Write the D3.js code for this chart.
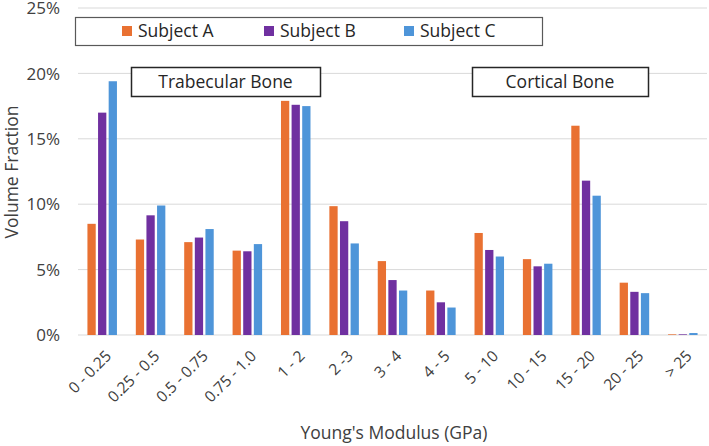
<!DOCTYPE html>
<html>
<head>
<meta charset="utf-8">
<script src="https://cdn.jsdelivr.net/npm/d3@7"></script>
<style>
  body { margin: 0; background: #fff; }
  svg { display: block; font-family: "Open Sans", "Liberation Sans", sans-serif; }
</style>
</head>
<body>
<svg id="chart"></svg>
<script>
// categories and values (volume fraction, %)
var categories = ['0 - 0.25', '0.25 - 0.5', '0.5 - 0.75', '0.75 - 1.0', '1 - 2', '2 -3', '3 - 4',
                  '4 - 5', '5 - 10', '10 - 15', '15 - 20', '20 - 25', '> 25'];
var subjects = ['Subject A', 'Subject B', 'Subject C'];
var subjectA = [8.5, 7.3, 7.1, 6.45, 17.9, 9.85, 5.65, 3.4, 7.8, 5.8, 16.0, 4.0, 0.05];
var subjectB = [17.0, 9.15, 7.45, 6.4, 17.6, 8.7, 4.2, 2.5, 6.5, 5.25, 11.8, 3.3, 0.05];
var subjectC = [19.4, 9.9, 8.1, 6.95, 17.5, 7.0, 3.4, 2.1, 6.0, 5.45, 10.65, 3.2, 0.15];
var yTicks = [0, 5, 10, 15, 20, 25];
var regionLabels = ['Trabecular Bone', 'Cortical Bone'];

var width = 709,
    height = 446,
    margin = {left: 78, right: 2, top: 8, bottom: 111},
    colors = ['#E97132', '#7030A0', '#4E95D9'],
    textColor = '#404040';

var series = [subjectA, subjectB, subjectC];

var svg = d3.select('#chart')
    .attr('width', width)
    .attr('height', height);

var xScale = d3.scaleBand()
    .domain(categories)
    .range([margin.left, width - margin.right])
    .paddingInner(0.39)
    .paddingOuter(0.195);

var subScale = d3.scaleBand()
    .domain(subjects)
    .range([0, xScale.bandwidth()])
    .paddingInner(0.22);

var yScale = d3.scaleLinear()
    .domain([0, 25])
    .range([height - margin.bottom, margin.top]);

// gridlines
svg.append('g')
    .selectAll('line')
    .data(yTicks)
    .enter().append('line')
    .attr('x1', margin.left)
    .attr('x2', width - margin.right)
    .attr('y1', function(d) { return yScale(d); })
    .attr('y2', function(d) { return yScale(d); })
    .attr('stroke', '#d9d9d9')
    .attr('stroke-width', 1);

// y axis labels
var yAxis = d3.axisLeft(yScale)
    .tickValues(yTicks)
    .tickSize(0)
    .tickPadding(18)
    .tickFormat(function(d) { return d + '%'; });

svg.append('g')
    .attr('transform', 'translate(' + margin.left + ',0)')
    .call(yAxis)
    .call(function(g) { g.select('.domain').remove(); })
    .selectAll('text')
    .style('font-size', '17px')
    .style('font-family', '"Open Sans", sans-serif')
    .attr('fill', textColor)
    .attr('dy', '0.34em');

// bars
var groups = svg.append('g')
    .selectAll('g')
    .data(categories)
    .enter().append('g')
    .attr('transform', function(d) { return 'translate(' + xScale(d) + ',0)'; });

groups.selectAll('rect')
    .data(function(d, i) {
        return subjects.map(function(s, j) { return {subject: s, value: series[j][i], idx: j}; });
    })
    .enter().append('rect')
    .attr('x', function(d) { return subScale(d.subject); })
    .attr('width', subScale.bandwidth())
    .attr('y', function(d) { return yScale(d.value); })
    .attr('height', function(d) { return yScale(0) - yScale(d.value); })
    .attr('fill', function(d) { return colors[d.idx]; });

// x axis labels
var xAxis = d3.axisBottom(xScale).tickSize(0).tickPadding(0);
svg.append('g')
    .attr('transform', 'translate(0,' + yScale(0) + ')')
    .call(xAxis)
    .call(function(g) { g.select('.domain').remove(); })
    .selectAll('text')
    .style('font-size', '15.5px')
    .style('font-family', '"Open Sans", sans-serif')
    .attr('fill', textColor)
    .attr('text-anchor', 'end')
    .attr('dy', 0)
    .attr('y', 0)
    .attr('transform', 'translate(10,22) rotate(-45)');

// axis titles
svg.append('text')
    .attr('x', 394)
    .attr('y', 439)
    .attr('text-anchor', 'middle')
    .attr('fill', textColor)
    .style('font-size', '17.5px')
    .text("Young's Modulus (GPa)");

svg.append('text')
    .attr('transform', 'translate(18,172) rotate(-90)')
    .attr('text-anchor', 'middle')
    .attr('fill', textColor)
    .style('font-size', '17.5px')
    .text('Volume Fraction');

// legend
var legend = svg.append('g');
legend.append('rect')
    .attr('x', 75.5).attr('y', 17.5)
    .attr('width', 467).attr('height', 28)
    .attr('fill', '#fff')
    .attr('stroke', '#595959')
    .attr('stroke-width', 1.2);

var legendX = [122, 264, 404];
var item = legend.selectAll('g.item')
    .data(subjects)
    .enter().append('g')
    .attr('class', 'item')
    .attr('transform', function(d, i) { return 'translate(' + legendX[i] + ',31)'; });

item.append('rect')
    .attr('x', 0).attr('y', -5)
    .attr('width', 10).attr('height', 10)
    .attr('fill', function(d, i) { return colors[i]; });

item.append('text')
    .attr('x', 16)
    .attr('dy', '0.36em')
    .attr('fill', '#262626')
    .style('font-size', '17.5px')
    .text(function(d) { return d; });

// region annotation boxes
var regionBoxes = [[131, 320], [472, 648]];
var region = svg.selectAll('g.region')
    .data(regionLabels)
    .enter().append('g')
    .attr('class', 'region');

region.append('rect')
    .attr('x', function(d, i) { return regionBoxes[i][0] + 0.5; })
    .attr('y', 67.5)
    .attr('width', function(d, i) { return regionBoxes[i][1] - regionBoxes[i][0]; })
    .attr('height', 29)
    .attr('fill', '#fff')
    .attr('stroke', '#262626')
    .attr('stroke-width', 1.5);

region.append('text')
    .attr('x', function(d, i) { return (regionBoxes[i][0] + regionBoxes[i][1]) / 2; })
    .attr('y', 82)
    .attr('dy', '0.36em')
    .attr('text-anchor', 'middle')
    .attr('fill', '#262626')
    .style('font-size', '17.5px')
    .text(function(d) { return d; });
</script>
</body>
</html>
